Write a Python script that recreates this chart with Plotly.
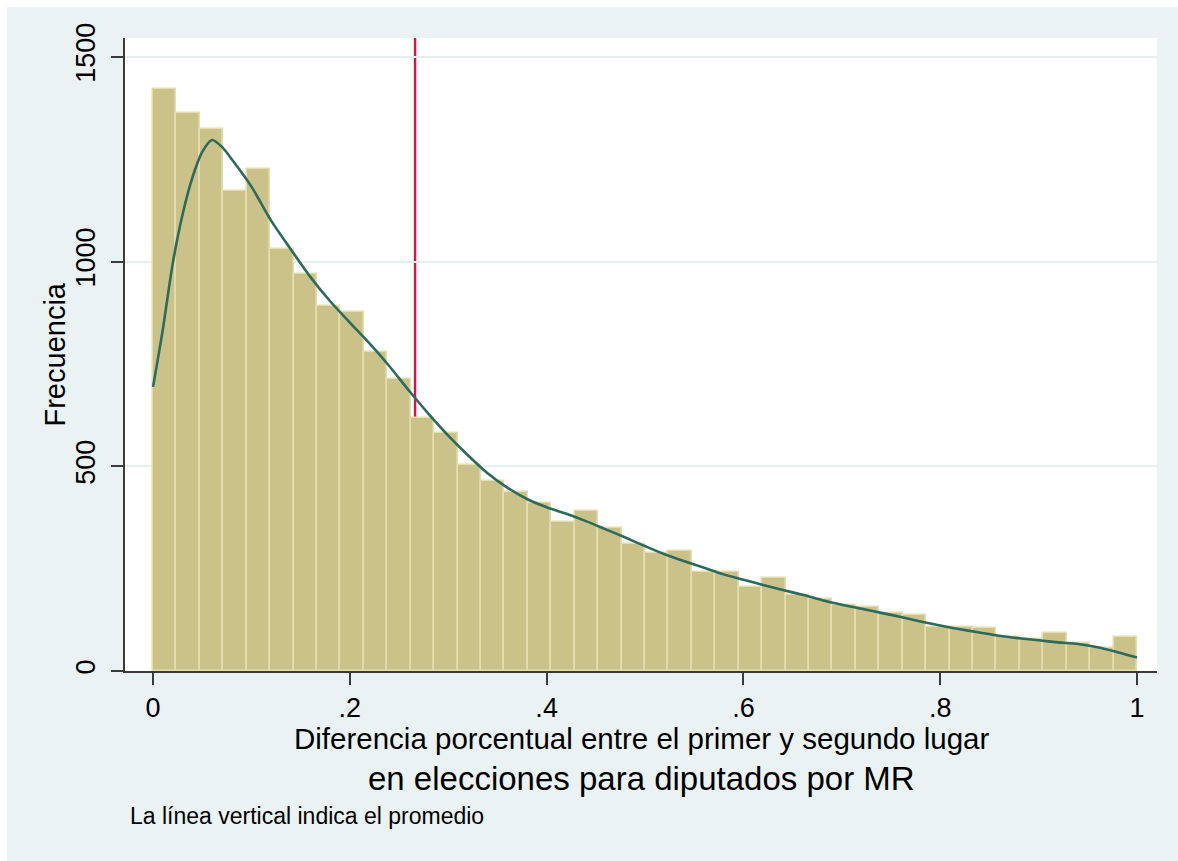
import plotly.graph_objects as go

# ---- data ----
bin_count = 42
bin_freq = [1421, 1363, 1323, 1173, 1227, 1030, 969, 892, 878, 780,
            713, 617, 581, 502, 465, 437, 410, 363, 392, 350,
            310, 287, 293, 243, 243, 206, 226, 186, 176, 161,
            157, 141, 137, 108, 107, 106, 82, 77, 92, 68,
            55, 84]

kde_x = [0.0, 0.01, 0.02, 0.03, 0.04, 0.05, 0.06, 0.07, 0.08, 0.10,
         0.12, 0.14, 0.16, 0.18, 0.20, 0.22, 0.24, 0.26, 0.28, 0.30,
         0.32, 0.34, 0.36, 0.38, 0.40, 0.42, 0.44, 0.46, 0.48, 0.50,
         0.52, 0.54, 0.56, 0.58, 0.60, 0.62, 0.64, 0.66, 0.68, 0.70,
         0.72, 0.74, 0.76, 0.78, 0.80, 0.82, 0.84, 0.86, 0.88, 0.90,
         0.92, 0.94, 0.96, 0.98, 1.00]
kde_y = [694, 835, 995, 1115, 1205, 1268, 1297, 1280, 1250, 1183,
         1100, 1030, 962, 903, 851, 800, 745, 685, 628, 575,
         527, 483, 448, 420, 400, 384, 366, 346, 326, 305,
         285, 268, 252, 236, 223, 210, 198, 186, 173, 162,
         152, 142, 132, 121, 111, 102, 94, 86, 80, 75,
         70, 66, 58, 46, 33]

mean_value = 0.2663

x_tickvals = [0, 0.2, 0.4, 0.6, 0.8, 1]
x_ticktext = ["0", ".2", ".4", ".6", ".8", "1"]
y_tickvals = [0, 500, 1000, 1500]
y_ticktext = ["0", "500", "1000", "1500"]

y_title = "Frecuencia"
x_title_1 = "Diferencia porcentual entre el primer y segundo lugar"
x_title_2 = "en elecciones para diputados por MR"
note_text = "La línea vertical indica el promedio"

# ---- derived ----
bin_width = 1.0 / bin_count
bin_centers = [(i + 0.5) * bin_width for i in range(bin_count)]

FONT = "Liberation Sans, Arial, sans-serif"
BG = "#EAF2F3"
AXIS = "#3a3a3a"

fig = go.Figure()
fig.add_trace(go.Bar(
    x=bin_centers, y=bin_freq, width=bin_width,
    marker=dict(color="#CBC289", line=dict(color="#E4DDAE", width=1.6)),
    showlegend=False, hoverinfo="skip",
))
fig.add_trace(go.Scatter(
    x=kde_x, y=kde_y, mode="lines",
    line=dict(color="#2C6A5C", width=2.6, shape="spline", smoothing=0.8),
    showlegend=False, hoverinfo="skip",
))

fig.add_shape(type="line", xref="x", yref="paper",
              x0=mean_value, x1=mean_value, y0=0, y1=1,
              line=dict(color="#D41547", width=2.4), layer="between")

fig.update_layout(
    width=1171, height=854,
    margin=dict(l=118, r=21, t=31, b=190),
    paper_bgcolor=BG, plot_bgcolor="white",
    font=dict(family=FONT, color="black"),
    bargap=0,
    xaxis=dict(
        range=[-0.0285, 1.0203], tickmode="array",
        tickvals=x_tickvals, ticktext=x_ticktext,
        ticks="outside", ticklen=12, tickwidth=1.5, tickcolor=AXIS,
        showline=True, linecolor=AXIS, linewidth=1.5,
        showgrid=False, zeroline=False,
        tickfont=dict(size=27), ticklabelstandoff=0,
    ),
    yaxis=dict(
        range=[0, 1546], tickmode="array",
        tickvals=y_tickvals, ticktext=y_ticktext,
        ticks="outside", ticklen=12, tickwidth=1.5, tickcolor=AXIS,
        showline=True, linecolor=AXIS, linewidth=1.5,
        showgrid=True, gridcolor="#E6EEF0", gridwidth=2,
        zeroline=False, tickangle=-90,
        tickfont=dict(size=27), ticklabelstandoff=5,
    ),
    annotations=[
        dict(text=y_title, xref="paper", yref="paper", x=0, y=0.5,
             xanchor="center", yanchor="middle", xshift=-71, textangle=-90,
             showarrow=False, font=dict(size=29)),
        dict(text=x_title_1, xref="paper", yref="paper", x=0.5, y=0,
             xanchor="center", yanchor="middle", yshift=-67,
             showarrow=False, font=dict(size=29.5)),
        dict(text=x_title_2, xref="paper", yref="paper", x=0.5, y=0,
             xanchor="center", yanchor="middle", yshift=-107,
             showarrow=False, font=dict(size=33)),
        dict(text=note_text, xref="paper", yref="paper", x=0, y=0,
             xanchor="left", yanchor="middle", xshift=3, yshift=-145,
             showarrow=False, font=dict(size=23)),
    ],
)

fig.write_html(
    "out.html",
    post_script="document.body.style.margin='7px 0 0 7px';document.body.style.overflow='hidden';",
)
